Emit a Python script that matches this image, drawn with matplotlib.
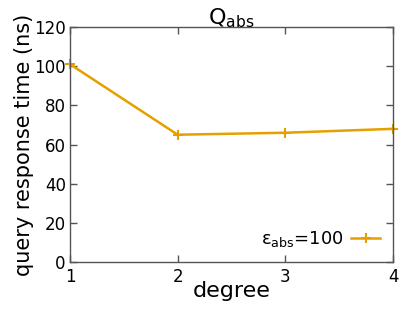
import matplotlib
matplotlib.use("Agg")
import matplotlib.pyplot as plt

degree = [1, 2, 3, 4]
response_ns = [101, 65, 66, 68]
x_ticks = [1, 2, 3, 4]
y_ticks = [0, 20, 40, 60, 80, 100, 120]

ORANGE = "#E69F00"
FRAME = "#555555"

plt.rcParams["font.family"] = "DejaVu Sans"
plt.rcParams["mathtext.fontset"] = "dejavusans"

fig = plt.figure(figsize=(4.15, 3.12), dpi=100)
ax = fig.add_axes([70 / 415, 1 - 262 / 312, (393 - 70) / 415, (262 - 27) / 312])

ax.plot(degree, response_ns, color=ORANGE, lw=1.8, marker="+", ms=7, mew=1.5,
        label=r"ε$_{\mathrm{abs}}$=100", clip_on=False)

ax.set_xlim(1, 4)
ax.set_ylim(0, 120)
ax.set_xticks(x_ticks)
ax.set_yticks(y_ticks)
ax.tick_params(direction="in", top=True, right=True, length=5, width=1,
               color=FRAME, labelsize=12)
ax.tick_params(axis="x", pad=4)
ax.tick_params(axis="y", pad=3)
for s in ax.spines.values():
    s.set_color(FRAME)
    s.set_linewidth(1)

ax.set_xlabel("degree", fontsize=16, labelpad=-3)
ax.set_ylabel("query response time (ns)", fontsize=15, labelpad=0)
ax.set_title(r"Q$_{\mathrm{abs}}$", fontsize=16, pad=2)

leg = ax.legend(loc="lower right", frameon=False, markerfirst=False, fontsize=13,
                handlelength=1.6, borderaxespad=0.3, handletextpad=0.4)

fig.savefig("out.png", dpi=100)
